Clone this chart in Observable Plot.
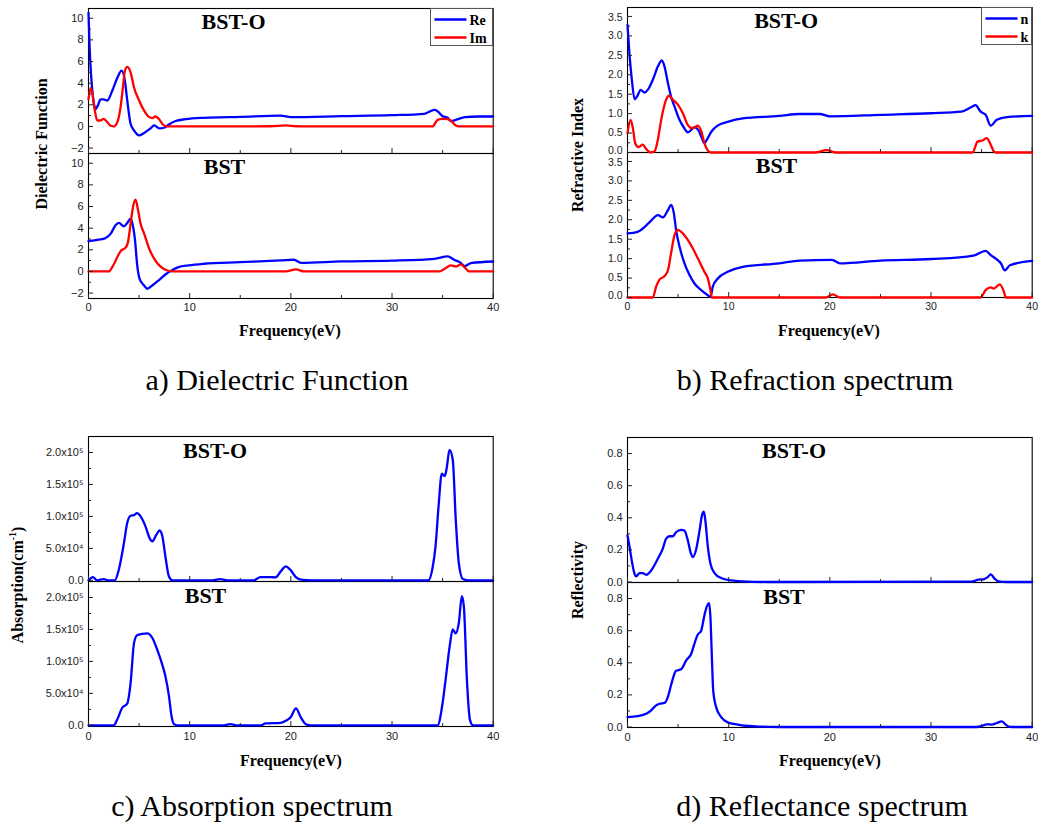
<!DOCTYPE html>
<html><head><meta charset="utf-8">
<script src="https://cdn.jsdelivr.net/npm/d3@7"></script>
<script src="https://cdn.jsdelivr.net/npm/@observablehq/plot@0.6"></script>
<style>
body{margin:0;background:#fff;}
#fig{position:relative;width:1038px;height:825px;background:#fff;overflow:hidden;}
.panel{position:absolute;}
.ylab{position:absolute;font-family:"Liberation Serif","Times New Roman",serif;font-weight:bold;font-size:16px;white-space:nowrap;transform:translate(-50%,-50%) rotate(-90deg);color:#000;}
.xlab{position:absolute;font-family:"Liberation Serif","Times New Roman",serif;font-weight:bold;font-size:16px;white-space:nowrap;transform:translate(-50%,-50%);color:#000;}
.cap{position:absolute;font-family:"Liberation Serif","Times New Roman",serif;font-size:30px;white-space:nowrap;transform:translate(-50%,-50%);color:#000;}
.legend{position:absolute;}
.legend svg{display:block;}
</style>
</head><body>
<div id="fig"></div>
<script>
// ---------- shared axis values ----------
const samples = ["BST-O", "BST"];
const freqTicks = [0, 10, 20, 30, 40];
const freqMinor = [5, 15, 25, 35];

// ---------- a) Dielectric function ----------
const epsTicks = [-2, 0, 2, 4, 6, 8, 10];
const epsMinor = [-1, 1, 3, 5, 7, 9];
const epsReBSTO = [[0,10.5],[0.1,7.6],[0.2,5.6],[0.35,3.6],[0.5,2.3],[0.7,1.6],[0.9,1.9],[1.2,2.5],[1.5,2.5],[1.85,2.4],[2.35,3.3],[2.85,4.5],[3.27,5.15],[3.6,4.2],[3.83,2.4],[4.16,0.25],[4.5,-0.37],[5.0,-0.83],[5.5,-0.6],[6.1,-0.2],[6.5,0.1],[7.0,-0.18],[7.45,-0.12],[7.95,0.18],[8.6,0.5],[9.6,0.67],[11.4,0.8],[15,0.89],[19,1.0],[20,0.86],[25,0.95],[30,1.04],[33.2,1.17],[34.2,1.53],[34.5,1.41],[35,0.95],[35.5,0.8],[35.8,0.5],[36.3,0.6],[37.2,0.86],[38.5,0.92],[40,0.92]];
const epsImBSTO = [[0,2.5],[0.2,3.55],[0.36,3.16],[0.63,1.47],[0.86,0.55],[1.2,0.55],[1.5,0.7],[1.85,0.4],[2.2,0.06],[2.5,0],[2.85,0.4],[3.17,1.78],[3.4,3.6],[3.6,5.15],[3.83,5.5],[4.16,5.0],[4.5,3.6],[5.0,2.4],[5.5,1.47],[6.0,0.86],[6.3,0.77],[6.6,0.92],[7.0,0.64],[7.35,0.18],[7.8,0],[12,0],[18,0.02],[19.5,0.1],[20.5,0.02],[22,0],[34,0],[34.5,0.61],[35,0.7],[35.5,0.67],[35.8,0.55],[36.3,0.09],[36.6,0],[40,0]];
const epsReBST = [[0,2.8],[1.0,2.93],[1.7,3.1],[2.2,3.5],[2.67,4.26],[3.0,4.48],[3.5,4.17],[3.83,4.48],[4.16,4.88],[4.3,4.57],[4.6,2.87],[4.8,0.7],[5.05,-0.68],[5.5,-1.3],[5.8,-1.6],[6.3,-1.3],[7.0,-0.77],[7.6,-0.28],[8.1,0.03],[8.9,0.4],[9.9,0.56],[11.4,0.71],[15,0.86],[19,1.02],[20.3,1.08],[21,0.8],[25,0.93],[30,1.0],[34.2,1.17],[35.5,1.39],[36.2,1.05],[36.7,0.86],[37.2,0.5],[37.8,0.77],[40,0.92]];
const epsImBST = [[0,0],[2.0,0],[2.35,0.4],[2.85,1.33],[3.17,1.88],[3.66,2.2],[3.9,2.7],[4.16,4.4],[4.4,5.96],[4.65,6.64],[4.9,5.65],[5.15,4.4],[5.5,3.5],[6.0,2.1],[6.5,1.17],[7.0,0.56],[7.6,0.15],[8.3,0],[19.5,0],[20.5,0.2],[21.3,0],[34.7,0],[35.2,0.25],[35.8,0.56],[36.3,0.46],[36.8,0.65],[37.3,0.25],[37.6,0],[40,0]];

// ---------- b) Refraction ----------
const nTicks = [0, 0.5, 1, 1.5, 2, 2.5, 3, 3.5];
const nMinor = [0.25, 0.75, 1.25, 1.75, 2.25, 2.75, 3.25];
const nBSTO = [[0,3.28],[0.2,2.51],[0.43,1.87],[0.7,1.37],[0.95,1.44],[1.3,1.61],[1.68,1.54],[2.0,1.61],[2.5,1.87],[3.0,2.21],[3.4,2.37],[3.66,2.21],[4.0,1.78],[4.3,1.44],[4.65,1.18],[5.14,0.84],[5.6,0.63],[5.96,0.52],[6.3,0.58],[6.6,0.65],[7.0,0.58],[7.35,0.37],[7.6,0.24],[7.85,0.33],[8.3,0.54],[8.9,0.69],[9.9,0.79],[11.4,0.88],[15,0.94],[17,0.99],[19,0.99],[20,0.93],[25,0.97],[30,1.01],[33,1.05],[34,1.17],[34.4,1.22],[34.9,1.05],[35.4,0.97],[35.9,0.69],[36.5,0.84],[37.5,0.91],[40,0.94]];
const kBSTO = [[0,0.5],[0.3,0.84],[0.53,0.63],[0.76,0.24],[1.1,0.14],[1.5,0.2],[1.85,0.09],[2.27,0],[2.67,0.03],[3.0,0.33],[3.33,0.84],[3.82,1.36],[4.1,1.46],[4.45,1.37],[4.98,1.23],[5.47,1.01],[5.96,0.71],[6.3,0.63],[6.6,0.64],[6.95,0.69],[7.3,0.54],[7.6,0.24],[7.94,0.05],[8.27,0],[18.5,0],[19.7,0.06],[20.6,0],[34.1,0],[34.6,0.28],[35.1,0.31],[35.5,0.37],[35.9,0.2],[36.2,0.03],[36.4,0],[40,0]];
const nBST = [[0,1.65],[1.0,1.69],[1.68,1.81],[2.34,1.98],[3.0,2.12],[3.5,2.06],[4.0,2.25],[4.3,2.38],[4.58,2.17],[4.8,1.74],[5.14,1.31],[5.63,0.88],[6.13,0.58],[6.62,0.36],[7.28,0.19],[7.94,0.06],[8.2,0.02],[8.43,0.28],[8.93,0.49],[9.9,0.66],[11.4,0.79],[15,0.88],[17,0.95],[20.2,0.97],[21,0.88],[25,0.95],[30,0.99],[34.2,1.08],[35.4,1.2],[35.9,1.09],[36.4,1.0],[36.9,0.88],[37.3,0.7],[37.8,0.83],[40,0.94]];
const kBST = [[0,0],[2.5,0],[2.83,0.28],[3.16,0.46],[3.66,0.55],[4.0,0.7],[4.3,1.13],[4.65,1.61],[4.98,1.74],[5.47,1.65],[5.96,1.48],[6.46,1.26],[6.95,1.01],[7.6,0.66],[7.94,0.49],[8.2,0.19],[8.34,0],[19.6,0],[20.3,0.08],[21,0],[34.9,0],[35.4,0.19],[35.9,0.26],[36.2,0.23],[36.8,0.34],[37.2,0.15],[37.4,0],[40,0]];

// ---------- c) Absorption (cm^-1) ----------
const absTicks = [0, 5e4, 1e5, 1.5e5, 2e5];
const absTickLabels = ["0.0", "5.0x10\u2074", "1.0x10\u2075", "1.5x10\u2075", "2.0x10\u2075"];
const absMinor = [2.5e4, 7.5e4, 1.25e5, 1.75e5];
const absBSTO = [[0,0],[0.43,0.05e5],[0.86,0],[1.5,0.02e5],[2.0,0],[2.6,0],[3.0,0.17e5],[3.5,0.58e5],[3.83,0.9e5],[4.16,1.01e5],[4.5,1.02e5],[4.8,1.05e5],[5.15,1.0e5],[5.64,0.84e5],[6.04,0.66e5],[6.3,0.61e5],[6.7,0.71e5],[7.03,0.78e5],[7.3,0.69e5],[7.6,0.375e5],[7.95,0.06e5],[8.3,0],[12.3,0],[13,0.02e5],[13.7,0],[16.3,0],[17,0.05e5],[18,0.05e5],[18.5,0.047e5],[19,0.14e5],[19.5,0.22e5],[20,0.156e5],[20.5,0.05e5],[21,0.01e5],[22,0],[33.6,0],[34.0,0.19e5],[34.3,0.53e5],[34.6,1.16e5],[34.92,1.67e5],[35.2,1.63e5],[35.4,1.75e5],[35.68,2.04e5],[36.0,1.89e5],[36.3,0.95e5],[36.6,0.27e5],[37.0,0.02e5],[37.5,0],[40,0]];
const absBST = [[0,0],[2.5,0],[2.84,0.09e5],[3.33,0.275e5],[3.83,0.34e5],[4.16,0.66e5],[4.5,1.29e5],[4.8,1.41e5],[5.3,1.43e5],[5.8,1.44e5],[6.3,1.37e5],[6.8,1.18e5],[7.23,0.98e5],[7.6,0.77e5],[7.95,0.46e5],[8.2,0.15e5],[8.45,0.02e5],[8.8,0],[13.4,0],[14,0.02e5],[14.6,0],[17,0],[17.5,0.03e5],[19,0.04e5],[19.5,0.07e5],[20,0.13e5],[20.5,0.265e5],[21,0.12e5],[21.5,0.015e5],[22,0],[34.5,0],[35,0.35e5],[35.3,0.72e5],[35.7,1.24e5],[36,1.5e5],[36.3,1.44e5],[36.6,1.6e5],[36.9,2.02e5],[37.1,1.86e5],[37.4,0.72e5],[37.7,0.09e5],[38,0],[40,0]];

// ---------- d) Reflectivity ----------
const rTicks = [0, 0.2, 0.4, 0.6, 0.8];
const rMinor = [0.1, 0.3, 0.5, 0.7];
const reflBSTO = [[0,0.29],[0.2,0.22],[0.43,0.13],[0.7,0.05],[0.86,0.035],[1.2,0.056],[1.5,0.056],[1.85,0.045],[2.34,0.072],[3.0,0.145],[3.5,0.21],[3.82,0.27],[4.15,0.285],[4.48,0.285],[4.8,0.31],[5.3,0.325],[5.63,0.32],[5.96,0.26],[6.23,0.186],[6.46,0.155],[6.8,0.207],[7.12,0.32],[7.38,0.42],[7.55,0.438],[7.7,0.38],[7.94,0.22],[8.2,0.114],[8.6,0.056],[9.26,0.025],[10.25,0.01],[11.4,0.004],[14,0],[34,0.002],[34.7,0.015],[35.2,0.017],[35.6,0.03],[35.9,0.048],[36.3,0.02],[36.7,0.004],[37.5,0],[40,0]];
const reflBST = [[0,0.062],[1.0,0.068],[1.85,0.083],[2.34,0.104],[2.83,0.135],[3.16,0.145],[3.66,0.15],[4.0,0.19],[4.3,0.26],[4.8,0.35],[5.3,0.36],[5.8,0.415],[6.3,0.456],[6.62,0.52],[6.95,0.576],[7.28,0.6],[7.6,0.695],[7.87,0.756],[8.07,0.771],[8.2,0.68],[8.34,0.435],[8.47,0.228],[8.76,0.124],[9.26,0.062],[9.9,0.029],[10.9,0.015],[11.6,0.008],[13,0.003],[15,0],[34.5,0],[35,0.006],[35.5,0.017],[36,0.015],[36.5,0.025],[37,0.035],[37.3,0.02],[37.7,0.002],[38,0],[40,0]];

const BLUE = "#0000ff", RED = "#ff0000";
const fig = document.getElementById("fig");

function rows(arr, sample) { return arr.map(([x, y]) => ({x, y, sample})); }

function makePanel(c) {
  const marks = [Plot.frame({stroke: "#000", strokeWidth: 1.1})];
  for (const s of c.series) {
    marks.push(Plot.line(rows(s.data, s.sample), {x: "x", y: "y", fy: "sample", stroke: s.color, strokeWidth: 2.3, curve: "monotone-x"}));
  }
  marks.push(
    Plot.axisY({ticks: c.yTicks, tickSize: 5, dx: 5, fill: "none", label: null, stroke: "#222"}),
    Plot.axisY({ticks: c.yMinor, tickSize: 3, dx: 3, fill: "none", label: null, stroke: "#222"}),
    Plot.axisX({ticks: freqTicks, tickSize: 5, dy: -5, fill: "none", label: null, facetAnchor: null, stroke: "#222"}),
    Plot.axisX({ticks: freqMinor, tickSize: 3, dy: -3, fill: "none", label: null, facetAnchor: null, stroke: "#222"}),
    Plot.axisX({ticks: freqTicks, tickSize: 0, tickPadding: c.xPad, label: null, fill: "#222"})
  );
  // y tick labels; the lowest and highest labels may be nudged apart where facets meet
  const lo = c.yTicks[0], hi = c.yTicks[c.yTicks.length - 1];
  const nudge = c.nudge || 0;
  const fmt = (d) => c.yFormat(d, c.yTicks.indexOf(d));
  marks.push(
    Plot.axisY({ticks: c.yTicks.filter(d => d !== lo && d !== hi), tickSize: 0, tickPadding: 5, tickFormat: fmt, label: null, fill: "#222"}),
    Plot.axisY({ticks: [lo], tickSize: 0, tickPadding: 5, tickFormat: fmt, label: null, fill: "#222", dy: -nudge}),
    Plot.axisY({ticks: [hi], tickSize: 0, tickPadding: 5, tickFormat: fmt, label: null, fill: "#222", dy: nudge})
  );
  for (const lab of c.labels) {
    marks.push(Plot.text([{sample: lab.sample}], {fy: "sample", text: "sample", frameAnchor: "top-left", textAnchor: "middle", lineAnchor: "top", dx: lab.dx, dy: lab.dy, fontFamily: "Liberation Serif", fontWeight: "bold", fontSize: 22, fill: "#000"}));
  }
  const svg = Plot.plot({
    width: c.width, height: c.height,
    marginLeft: c.ml, marginRight: c.mr, marginTop: c.mt, marginBottom: c.mb,
    x: {domain: [0, 40]},
    y: {domain: c.yDomain},
    fy: {domain: samples, padding: 0, axis: null},
    style: {fontFamily: "'Liberation Sans', Arial, sans-serif", fontSize: c.fontSize || "11px", background: "transparent", overflow: "visible", color: "#000"},
    marks
  });
  const wrap = document.createElement("div");
  wrap.className = "panel";
  wrap.style.left = c.left + "px";
  wrap.style.top = c.top + "px";
  wrap.appendChild(svg);
  fig.appendChild(wrap);
}

function addText(cls, html, x, y) {
  const d = document.createElement("div");
  d.className = cls; d.innerHTML = html;
  d.style.left = x + "px"; d.style.top = y + "px";
  fig.appendChild(d);
}

function addLegend(left, top, w, h, items, lineLen) {
  const d = document.createElement("div");
  d.className = "legend";
  d.style.left = left + "px"; d.style.top = top + "px";
  const ns = "http://www.w3.org/2000/svg";
  const s = document.createElementNS(ns, "svg");
  s.setAttribute("width", w); s.setAttribute("height", h);
  const r = document.createElementNS(ns, "rect");
  r.setAttribute("x", 0.5); r.setAttribute("y", 0.5); r.setAttribute("width", w - 1); r.setAttribute("height", h - 1);
  r.setAttribute("fill", "#fff"); r.setAttribute("stroke", "#555"); r.setAttribute("stroke-width", 1);
  s.appendChild(r);
  items.forEach((it, i) => {
    const yy = 11.5 + i * 18;
    const l = document.createElementNS(ns, "line");
    l.setAttribute("x1", 4.5); l.setAttribute("x2", 4.5 + lineLen); l.setAttribute("y1", yy); l.setAttribute("y2", yy);
    l.setAttribute("stroke", it.color); l.setAttribute("stroke-width", 2.6);
    s.appendChild(l);
    const t = document.createElementNS(ns, "text");
    t.setAttribute("x", 7.5 + lineLen); t.setAttribute("y", yy + 5);
    t.setAttribute("font-family", "Liberation Serif, serif"); t.setAttribute("font-weight", "bold"); t.setAttribute("font-size", 14);
    t.textContent = it.label;
    s.appendChild(t);
  });
  d.appendChild(s);
  fig.appendChild(d);
}

// a)
makePanel({
  left: 0, top: 0, width: 519, height: 320, ml: 88, mr: 26.3, mt: 7.5, mb: 22, xPad: 5,
  yDomain: [-2.5, 10.9], yTicks: epsTicks, yMinor: epsMinor, yFormat: d3.format("d"),
  series: [
    {data: epsReBSTO, sample: "BST-O", color: BLUE}, {data: epsImBSTO, sample: "BST-O", color: RED},
    {data: epsReBST, sample: "BST", color: BLUE}, {data: epsImBST, sample: "BST", color: RED}
  ],
  labels: [{sample: "BST-O", dx: 145, dy: 5}, {sample: "BST", dx: 136, dy: 5}]
});
// b)
makePanel({
  left: 520, top: 0, width: 518, height: 320, ml: 107, mr: 6.3, mt: 7.3, mb: 22.5, xPad: 5,
  yDomain: [0, 3.73], yTicks: nTicks, yMinor: nMinor, yFormat: d3.format(".1f"), nudge: 1.5, fontSize: "10.5px",
  series: [
    {data: nBSTO, sample: "BST-O", color: BLUE}, {data: kBSTO, sample: "BST-O", color: RED},
    {data: nBST, sample: "BST", color: BLUE}, {data: kBST, sample: "BST", color: RED}
  ],
  labels: [{sample: "BST-O", dx: 158.7, dy: 5}, {sample: "BST", dx: 149, dy: 5}]
});
// c)
makePanel({
  left: 0, top: 420, width: 519, height: 330, ml: 88, mr: 26.3, mt: 16, mb: 23.3, xPad: 6,
  yDomain: [-0.018e5, 2.25e5], yTicks: absTicks, yMinor: absMinor, yFormat: (d, i) => absTickLabels[i],
  series: [{data: absBSTO, sample: "BST-O", color: BLUE}, {data: absBST, sample: "BST", color: BLUE}],
  labels: [{sample: "BST-O", dx: 126.5, dy: 5.5}, {sample: "BST", dx: 117, dy: 5.5}]
});
// d)
makePanel({
  left: 520, top: 420, width: 518, height: 330, ml: 107, mr: 6.3, mt: 16.7, mb: 23, xPad: 6,
  yDomain: [-0.003, 0.9], yTicks: rTicks, yMinor: rMinor, yFormat: d3.format(".1f"),
  series: [{data: reflBSTO, sample: "BST-O", color: BLUE}, {data: reflBST, sample: "BST", color: BLUE}],
  labels: [{sample: "BST-O", dx: 166.5, dy: 5}, {sample: "BST", dx: 156.5, dy: 5.5}]
});

addLegend(430, 7.5, 63, 38, [{label: "Re", color: BLUE}, {label: "Im", color: RED}], 32);
addLegend(981, 7.3, 51, 38, [{label: "n", color: BLUE}, {label: "k", color: RED}], 32);

addText("ylab", "Dielectric Function", 42, 144);
addText("ylab", "Refractive Index", 578, 155);
addText("ylab", "Absorption(cm<sup style='font-size:10px'>-1</sup>)", 17, 585);
addText("ylab", "Reflectivity", 578, 580);

addText("xlab", "Frequency(eV)", 290, 331);
addText("xlab", "Frequency(eV)", 829, 331);
addText("xlab", "Frequency(eV)", 291, 761);
addText("xlab", "Frequency(eV)", 830, 761);

addText("cap", "a) Dielectric Function", 277, 380);
addText("cap", "b) Refraction spectrum", 815, 380);
addText("cap", "c) Absorption spectrum", 252, 806);
addText("cap", "d) Reflectance spectrum", 822, 806);
</script>
</body></html>
